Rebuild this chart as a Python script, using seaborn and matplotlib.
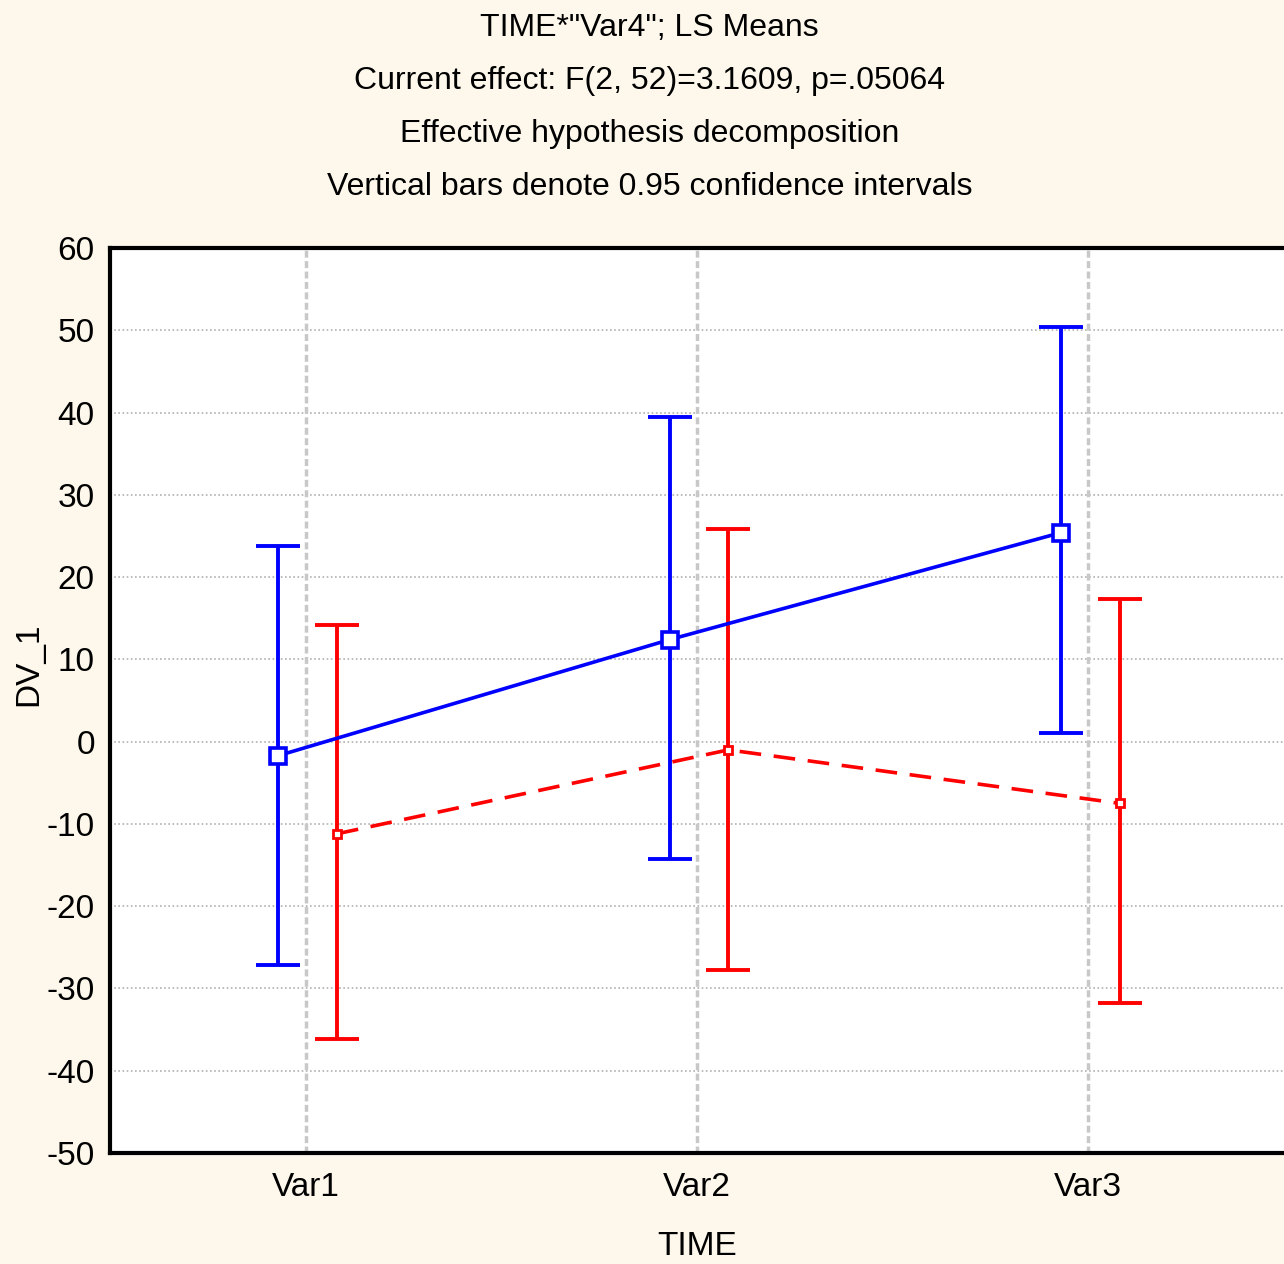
import numpy as np
import pandas as pd
import seaborn as sns
import matplotlib.pyplot as plt

sns.set_theme(style="white")
plt.rcParams['font.family'] = ['Liberation Sans Narrow', 'Liberation Sans', 'DejaVu Sans']
plt.rcParams['axes.unicode_minus'] = False
plt.rcParams['text.color'] = 'black'
plt.rcParams['axes.labelcolor'] = 'black'
plt.rcParams['xtick.color'] = 'black'
plt.rcParams['ytick.color'] = 'black'

# data
times = ["Var1", "Var2", "Var3"]
groups = ["g1", "g2"]
mean_g1 = [-1.7, 12.4, 25.4]
lo_g1 = [-27.2, -14.3, 1.1]
hi_g1 = [23.8, 39.5, 50.4]
mean_g2 = [-11.2, -1.0, -7.5]
lo_g2 = [-36.2, -27.7, -31.8]
hi_g2 = [14.2, 25.8, 17.3]

offsets = {"g1": -0.07, "g2": 0.08}
colors = {"g1": "#0000ff", "g2": "#ff0000"}

rows = []
for g, m, lo, hi in [("g1", mean_g1, lo_g1, hi_g1), ("g2", mean_g2, lo_g2, hi_g2)]:
    for i, t in enumerate(times):
        rows.append({"TIME": t, "group": g, "x": i + offsets[g], "mean": m[i], "lo": lo[i], "hi": hi[i]})
df = pd.DataFrame(rows)

bg = "#fdf8eb"
fig = plt.figure(figsize=(12.84, 12.64), dpi=100, facecolor=bg)
ax = fig.add_axes([0.0857, 0.0878, 0.9143, 0.716])
ax.set_facecolor("white")

# grid
for yv in range(-40, 60, 10):
    ax.axhline(yv, color="#b0b0b0", lw=1.2, ls=(0, (1, 1.5)), zorder=0)
for i in range(len(times)):
    ax.axvline(i, color="#c8c8c8", lw=2.5, ls=(0, (2, 1)), zorder=0)

# confidence intervals
for g in groups:
    d = df[df["group"] == g]
    ax.errorbar(d["x"], d["mean"], yerr=[d["mean"] - d["lo"], d["hi"] - d["mean"]],
                fmt="none", ecolor=colors[g], elinewidth=2.8, capsize=16, capthick=2.8, zorder=2)

sns.lineplot(data=df[df["group"] == "g1"], x="x", y="mean", color=colors["g1"], lw=2.6,
             marker="s", markersize=11, markerfacecolor="white", markeredgecolor=colors["g1"],
             markeredgewidth=2.6, ax=ax, zorder=3)
sns.lineplot(data=df[df["group"] == "g2"], x="x", y="mean", color=colors["g2"], lw=2.6,
             marker="s", markersize=6, markerfacecolor="white", markeredgecolor=colors["g2"],
             markeredgewidth=2, ax=ax, zorder=3)
ax.lines[-1].set_dashes((6, 3.5))

ax.set_xlim(-0.5, 2.5)
ax.set_ylim(-50, 60)
ax.set_yticks(range(-50, 61, 10))
ax.set_xticks(range(len(times)))
ax.set_xticklabels(times)
ax.tick_params(axis="y", direction="out", length=7, width=1.5, color="black", labelsize=24, pad=4)
ax.tick_params(axis="x", length=0, labelsize=24, pad=14)
for s in ["left", "bottom", "top"]:
    ax.spines[s].set_color("black")
    ax.spines[s].set_linewidth(3)
ax.spines["right"].set_visible(False)

ax.set_xlabel("TIME", fontsize=24, labelpad=20)
ax.set_ylabel("DV_1", fontsize=24)
ax.yaxis.set_label_coords(-0.056, 0.54)

title_lines = ['TIME*"Var4"; LS Means',
               "Current effect: F(2, 52)=3.1609, p=.05064",
               "Effective hypothesis decomposition",
               "Vertical bars denote 0.95 confidence intervals"]
for k, line in enumerate(title_lines):
    fig.text(0.506, 1 - (28 + 53 * k) / 1264, line, ha="center", va="center", fontsize=23)

fig.savefig("out.png", dpi=100, facecolor=bg)
